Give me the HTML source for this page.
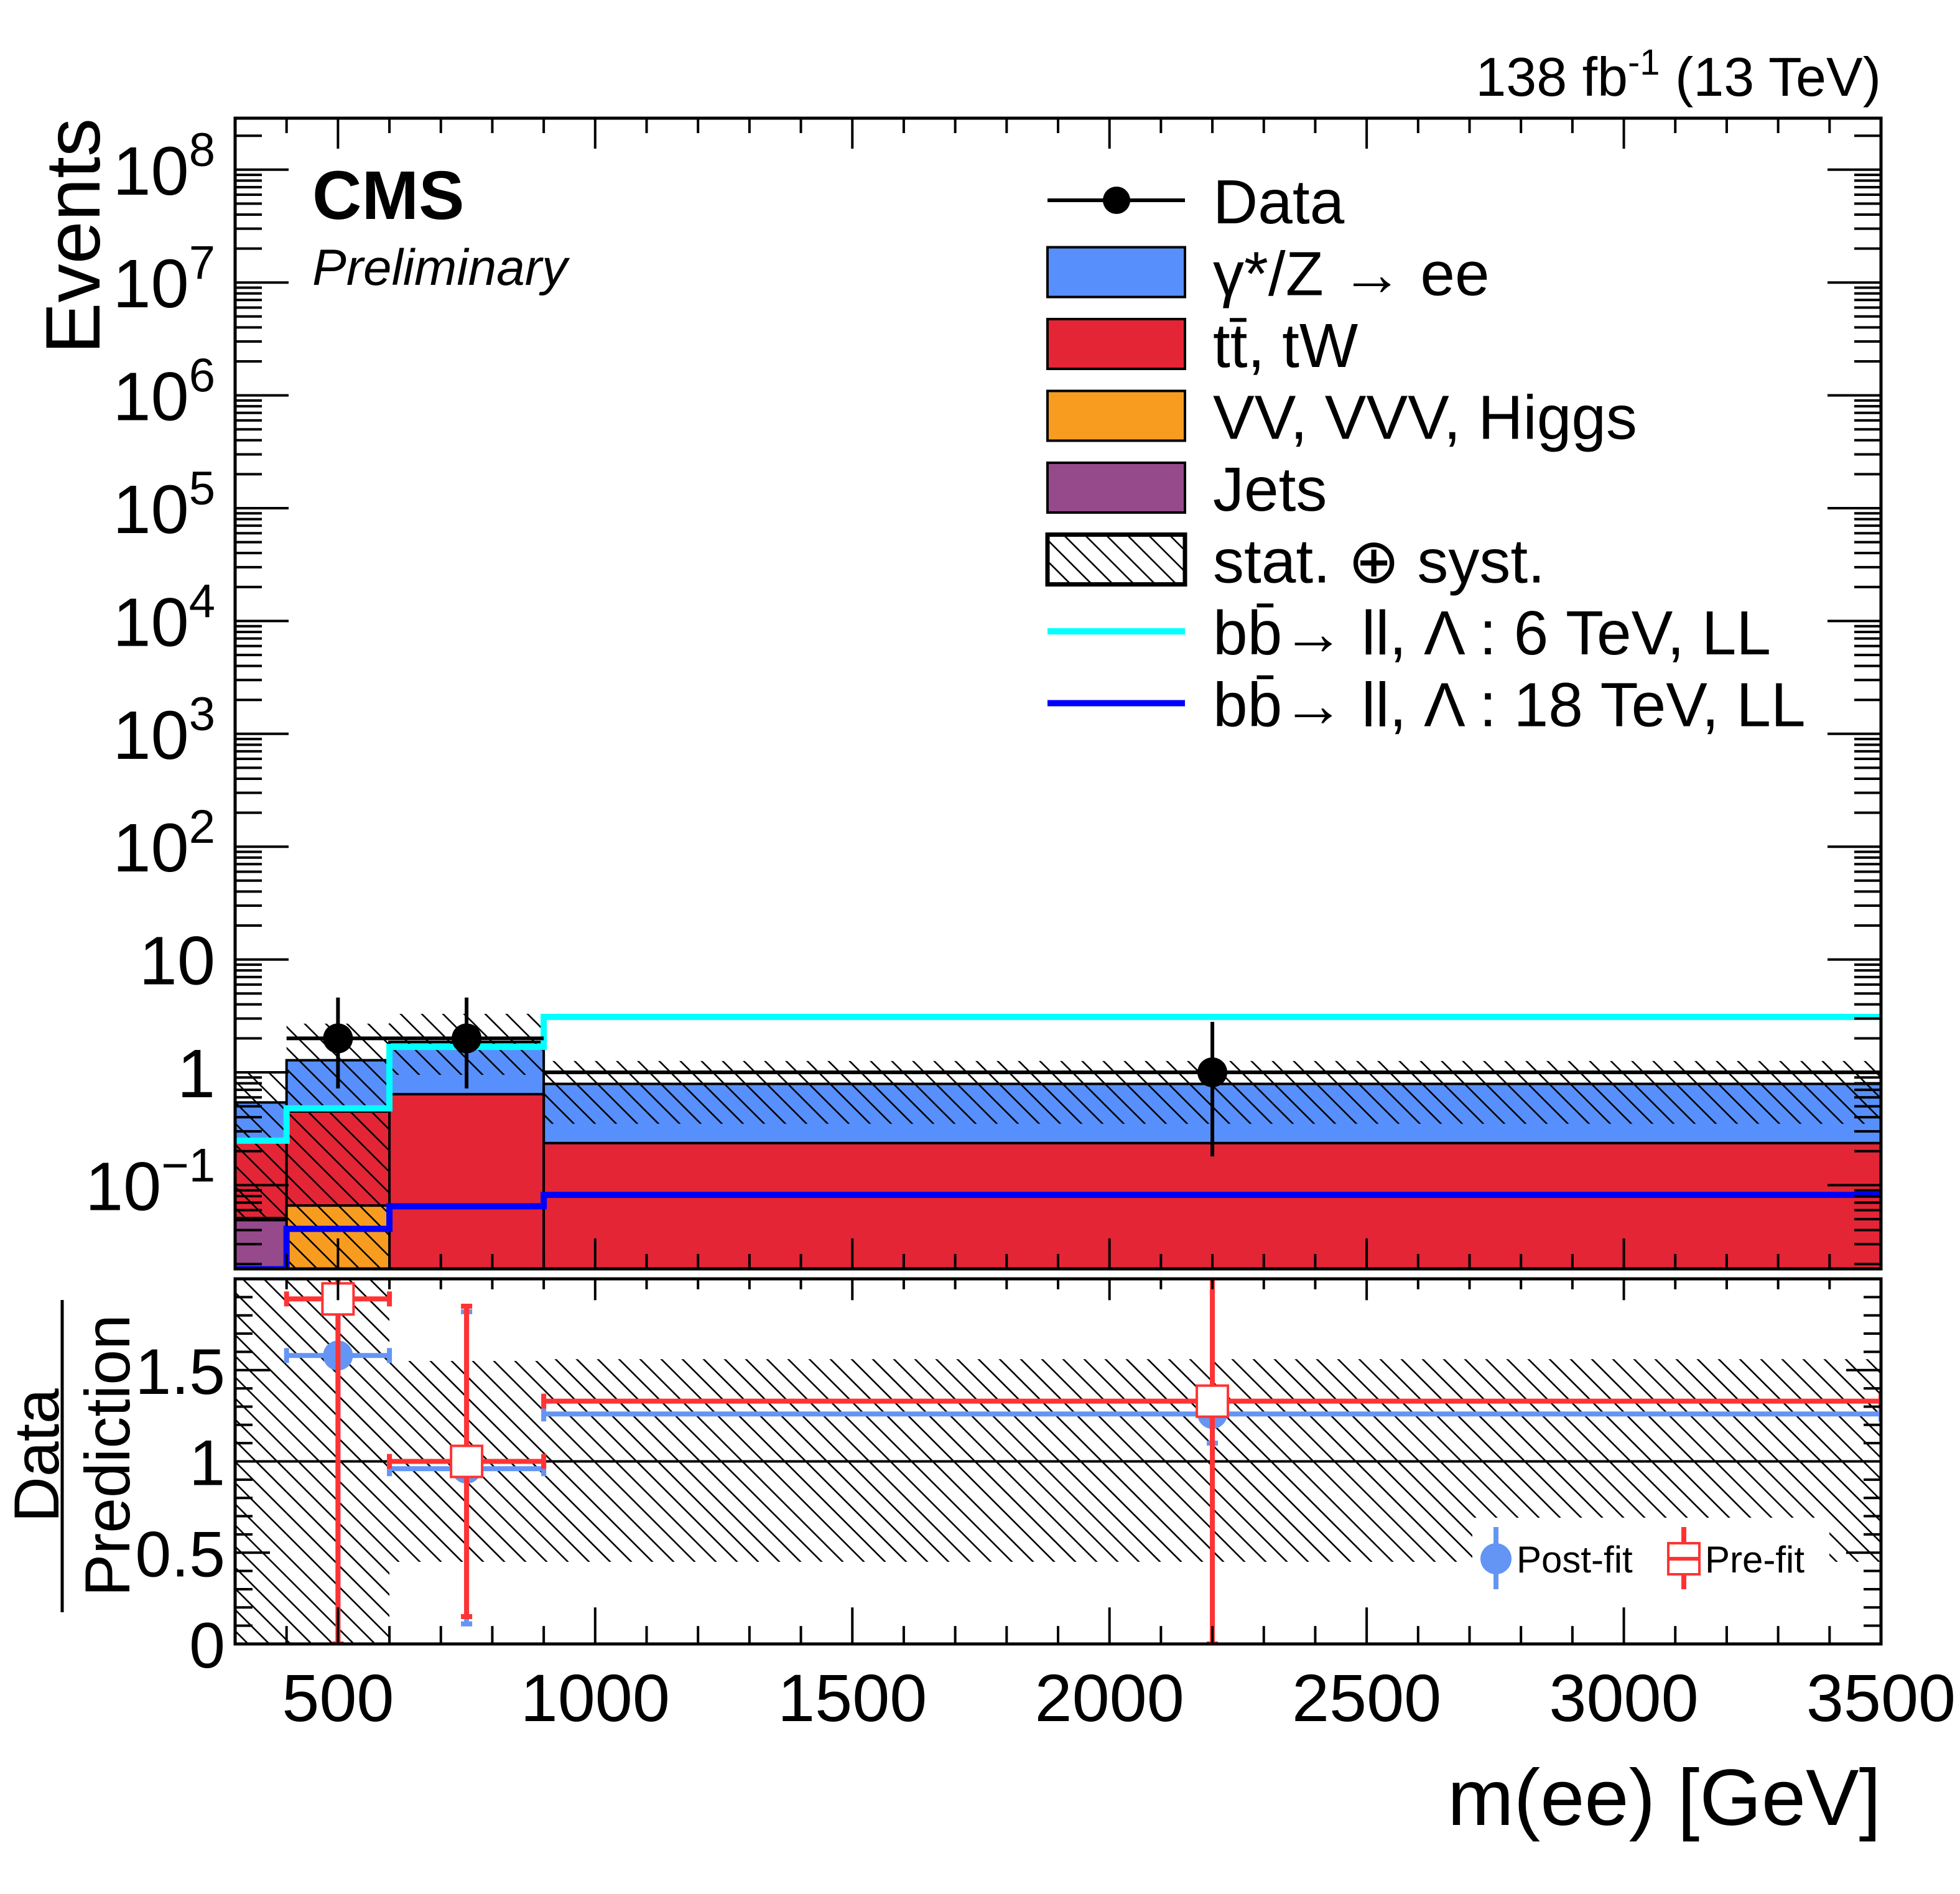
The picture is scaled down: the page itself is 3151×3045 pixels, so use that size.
<!DOCTYPE html>
<html><head><meta charset="utf-8"><style>
html,body{margin:0;padding:0;background:#fff;}
svg{display:block;font-family:"Liberation Sans",sans-serif;}
</style></head><body>
<svg id="chart" width="3151" height="3045" viewBox="0 0 3151 3045" xmlns="http://www.w3.org/2000/svg">
<defs>
<pattern id="hatch" patternUnits="userSpaceOnUse" width="34" height="34">
<path d="M-8.5,-8.5 L42.5,42.5 M-8.5,25.5 L8.5,42.5 M25.5,-8.5 L42.5,8.5" stroke="#000" stroke-width="2.6"/>
</pattern>
<clipPath id="mainClip"><rect x="378" y="190" width="2646" height="1850"/></clipPath>
<clipPath id="ratioClip"><rect x="378" y="2056" width="2646" height="587"/></clipPath>
</defs>
<g id="mainG" clip-path="url(#mainClip)"></g>
<g id="ratioG" clip-path="url(#ratioClip)"></g>
<g id="axesG"></g>
<text x="502" y="352" font-size="110" font-weight="bold">CMS</text>
<text x="502" y="458" font-size="82" font-style="italic">Preliminary</text>
<text x="3024" y="154" font-size="88" text-anchor="end">138 fb<tspan dy="-34" font-size="58">-1</tspan><tspan dy="34"> (13 TeV)</tspan></text>
<text transform="translate(160,190) rotate(-90)" font-size="124" text-anchor="end">Events</text>
<g>
<text transform="translate(94,2340) rotate(-90)" font-size="102" text-anchor="middle">Data</text>
<line x1="100" y1="2090" x2="100" y2="2592" stroke="#000" stroke-width="5"/>
<text transform="translate(208,2340) rotate(-90)" font-size="102" text-anchor="middle">Prediction</text>
</g>
<text x="3024" y="2934" font-size="128" text-anchor="end">m(ee) [GeV]</text>
<g id="legendG"></g>
<g id="ratioLegendG"></g>
</svg>
<script>
// ---- data ----
const binEdges = [300, 400, 600, 900, 3500];
const jets = [0.049, 0.004, 0.002, 0.001];
const vv = [0.002, 0.062, 0.008, 0.004];
const ttbar = [0.19, 0.384, 0.63, 0.231];
const dy = [0.30, 0.83, 1.22, 0.554];
const bandLo = [0.05, 0.01, 0.95, 0.35];
const bandHi = [1.0, 2.7, 3.3, 1.26];
const sig6 = [0.248, 0.48, 1.68, 3.1];
const sig18 = [0.018, 0.041, 0.065, 0.082];
const dataX = [500, 750, 2200];
const dataXlo = [400, 600, 900];
const dataXhi = [600, 900, 3500];
const dataY = [2.0, 2.0, 1.0];
const dataErrUp = [4.6, 4.6, 2.8];
const dataErrDn = [0.72, 0.72, 0.18];
const ratioBandLo = [-1, -1, 0.45, 0.45];
const ratioBandHi = [3, 3, 1.55, 1.56];
const postY = [1.58, 0.96, 1.26];
const postUp = [3, 1.82, 1.4];
const postDn = [0, 0.11, 1.1];
const preY = [1.89, 1.0, 1.33];
const preUp = [3, 1.85, 3];
const preDn = [0, 0.15, 0];
const xTickLabels = ["500", "1000", "1500", "2000", "2500", "3000", "3500"];
const yDecades = [-1, 0, 1, 2, 3, 4, 5, 6, 7, 8];
const ratioTickLabels = ["0", "0.5", "1", "1.5"];

// ---- axes ----
const L = 378, R = 3024, T = 190, B = 2040, RT = 2056, RB = 2643;
const X = v => L + (v - 300) / 3200 * (R - L);
const Y = v => { const y = 1724 - Math.log10(Math.max(v, 1e-6)) * 181.4; return Math.min(Math.max(y, T - 20), B + 20); };
const YR = v => Math.min(Math.max(2643 - v * 293.5, RT - 20), RB + 20);
const NS = "http://www.w3.org/2000/svg";
function mk(tag, attrs, parent) {
  const e = document.createElementNS(NS, tag);
  for (const k in attrs) e.setAttribute(k, attrs[k]);
  parent.appendChild(e); return e;
}
const mainG = document.getElementById('mainG');
const ratioG = document.getElementById('ratioG');
const axesG = document.getElementById('axesG');

// stacked histograms
const layers = [[jets, '#964a8b', 'jets'], [vv, '#f89c20', 'vv'], [ttbar, '#e42536', 'ttbar'], [dy, '#5790fc', 'dy']];
const cum = [0, 0, 0, 0];
const tops = [];
layers.forEach(([vals, col, nm]) => {
  const lo = cum.slice();
  for (let i = 0; i < 4; i++) cum[i] += vals[i];
  tops.push([lo, cum.slice(), col, nm]);
});
for (let li = tops.length - 1; li >= 0; li--) {
  const [lo, hi, col, nm] = tops[li];
  for (let i = 0; i < 4; i++) {
    const r = mk('rect', { x: X(binEdges[i]), y: Y(hi[i]), width: X(binEdges[i + 1]) - X(binEdges[i]), height: B + 20 - Y(hi[i]), fill: col, stroke: '#000', 'stroke-width': 4 }, mainG);
    
    
  }
}
// uncertainty band
for (let i = 0; i < 4; i++) {
  const r = mk('rect', { x: X(binEdges[i]), y: Y(bandHi[i]), width: X(binEdges[i + 1]) - X(binEdges[i]), height: Y(bandLo[i]) - Y(bandHi[i]), fill: 'url(#hatch)' }, mainG);
  
  
}
// signal step lines
function stepPath(vals) {
  let d = '';
  for (let i = 0; i < vals.length; i++) {
    d += (i === 0 ? 'M' : 'L') + X(binEdges[i]) + ',' + Y(vals[i]) + ' L' + X(binEdges[i + 1]) + ',' + Y(vals[i]) + ' ';
  }
  return d;
}
const s6 = mk('path', { d: stepPath(sig6), fill: 'none', stroke: '#00ffff', 'stroke-width': 10 }, mainG);


const s18 = mk('path', { d: stepPath(sig18), fill: 'none', stroke: '#0000ff', 'stroke-width': 10 }, mainG);


// data points
for (let i = 0; i < dataX.length; i++) {
  const g = mk('g', {}, mainG);
  
  
  mk('line', { x1: X(dataXlo[i]), x2: X(dataXhi[i]), y1: Y(dataY[i]), y2: Y(dataY[i]), stroke: '#000', 'stroke-width': 6 }, g);
  mk('line', { x1: X(dataX[i]), x2: X(dataX[i]), y1: Y(dataErrUp[i]), y2: Y(dataErrDn[i]), stroke: '#000', 'stroke-width': 6 }, g);
  mk('circle', { cx: X(dataX[i]), cy: Y(dataY[i]), r: 24, fill: '#000' }, g);
}

// ratio panel
for (let i = 0; i < 4; i++) {
  const r = mk('rect', { x: X(binEdges[i]), y: YR(ratioBandHi[i]), width: X(binEdges[i + 1]) - X(binEdges[i]), height: YR(ratioBandLo[i]) - YR(ratioBandHi[i]), fill: 'url(#hatch)' }, ratioG);
  
  
}
const wb = mk('rect', { x: 2367, y: 2440, width: 574, height: 120, fill: '#fff' }, ratioG);


const one = mk('line', { x1: L, x2: R, y1: YR(1), y2: YR(1), stroke: '#000', 'stroke-width': 4 }, ratioG);


function ratioPoint(i, yv, up, dn, col, kind) {
  const g = mk('g', {}, ratioG);
  
  
  const x0 = X(dataXlo[i]), x1 = X(dataXhi[i]), xc = X(dataX[i]), yc = YR(yv);
  mk('line', { x1: x0, x2: x1, y1: yc, y2: yc, stroke: col, 'stroke-width': 8 }, g);
  mk('line', { x1: x0, x2: x0, y1: yc - 12, y2: yc + 12, stroke: col, 'stroke-width': 8 }, g);
  mk('line', { x1: x1, x2: x1, y1: yc - 12, y2: yc + 12, stroke: col, 'stroke-width': 8 }, g);
  mk('line', { x1: xc, x2: xc, y1: YR(up), y2: YR(dn), stroke: col, 'stroke-width': 8 }, g);
  mk('line', { x1: xc - 9, x2: xc + 9, y1: YR(up), y2: YR(up), stroke: col, 'stroke-width': 8 }, g);
  mk('line', { x1: xc - 9, x2: xc + 9, y1: YR(dn), y2: YR(dn), stroke: col, 'stroke-width': 8 }, g);
  if (kind === 'post') mk('circle', { cx: xc, cy: yc, r: 24, fill: col }, g);
  else mk('rect', { x: xc - 25, y: yc - 25, width: 50, height: 50, fill: '#fff', stroke: col, 'stroke-width': 4 }, g);
}
for (let i = 0; i < 3; i++) ratioPoint(i, postY[i], postUp[i], postDn[i], '#6495f5', 'post');
for (let i = 0; i < 3; i++) ratioPoint(i, preY[i], preUp[i], preDn[i], '#ff3333', 'pre');

// frames
[[T, B, 'main-frame'], [RT, RB, 'ratio-frame']].forEach(([t, b, nm]) => {
  const r = mk('rect', { x: L, y: t, width: R - L, height: b - t, fill: 'none', stroke: '#000', 'stroke-width': 5 }, axesG);
  
  
});
// x ticks
const tk = mk('g', { stroke: '#000', 'stroke-width': 4 }, axesG);


for (let v = 300; v <= 3500; v += 100) {
  const x = X(v), len = v % 500 === 0 ? 49 : 24;
  mk('line', { x1: x, x2: x, y1: T, y2: T + len }, tk);
  mk('line', { x1: x, x2: x, y1: B, y2: B - len }, tk);
  mk('line', { x1: x, x2: x, y1: RT, y2: RT + len * 0.7 }, tk);
  mk('line', { x1: x, x2: x, y1: RB, y2: RB - len * 1.2 }, tk);
}
// log y ticks
for (let d = -2; d <= 8; d++) {
  for (let m = 1; m <= 9; m++) {
    const v = m * Math.pow(10, d);
    const y = 1724 - Math.log10(v) * 181.4;
    if (y < T || y > B) continue;
    const len = m === 1 ? 86 : 43;
    mk('line', { x1: L, x2: L + len, y1: y, y2: y }, tk);
    mk('line', { x1: R, x2: R - len, y1: y, y2: y }, tk);
  }
}
// ratio y ticks
for (let k = 0; k <= 19; k++) {
  const v = k / 10, y = YR(v), len = k % 5 === 0 ? 56 : 28;
  mk('line', { x1: L, x2: L + len, y1: y, y2: y }, tk);
  mk('line', { x1: R, x2: R - len, y1: y, y2: y }, tk);
}
// x labels
xTickLabels.forEach(s => {
  const t = mk('text', { x: X(+s), y: 2767, 'font-size': 108, 'text-anchor': 'middle' }, axesG);
  t.textContent = s;
  
  
});
// y labels
yDecades.forEach(d => {
  const y = 1724 - d * 181.4 + 40;
  const t = mk('text', { x: 346, y: y, 'font-size': 110, 'text-anchor': 'end' }, axesG);
  
  
  if (d === 0) t.textContent = '1';
  else if (d === 1) t.textContent = '10';
  else {
    const a = mk('tspan', {}, t); a.textContent = '10';
    const b = mk('tspan', { dy: -46, 'font-size': 76 }, t); b.textContent = d < 0 ? '\u2212' + (-d) : String(d);
  }
});
ratioTickLabels.forEach(s => {
  const t = mk('text', { x: 362, y: YR(+s) + 38, 'font-size': 104, 'text-anchor': 'end' }, axesG);
  t.textContent = s;
  
  
});

// legend
const lg = document.getElementById('legendG');
const legendItems = [
  ['data', 'Data'], ['box', '#5790fc', 'γ*/Z → ee'], ['box', '#e42536', 'tt̄, tW'], ['box', '#f89c20', 'VV, VVV, Higgs'],
  ['box', '#964a8b', 'Jets'], ['hatch', 'stat. ⊕ syst.'], ['line', '#00ffff', 'bb̄→ ll, Λ : 6 TeV, LL'], ['line', '#0000ff', 'bb̄→ ll, Λ : 18 TeV, LL']
];
legendItems.forEach((it, i) => {
  const yc = 322 + i * 115.5;
  const g = mk('g', {}, lg);
  
  
  let label;
  if (it[0] === 'data') {
    mk('line', { x1: 1684, x2: 1905, y1: yc, y2: yc, stroke: '#000', 'stroke-width': 6 }, g);
    mk('circle', { cx: 1795, cy: yc, r: 22, fill: '#000' }, g);
    label = it[1];
  } else if (it[0] === 'box') {
    mk('rect', { x: 1684, y: yc - 40, width: 221, height: 80, fill: it[1], stroke: '#000', 'stroke-width': 4 }, g);
    label = it[2];
  } else if (it[0] === 'hatch') {
    mk('rect', { x: 1684, y: yc - 40, width: 221, height: 80, fill: 'url(#hatch)', stroke: '#000', 'stroke-width': 7 }, g);
    label = it[1];
  } else {
    mk('line', { x1: 1684, x2: 1905, y1: yc, y2: yc, stroke: it[1], 'stroke-width': 10 }, g);
    label = it[2];
  }
  const t = mk('text', { x: 1950, y: yc + 37, 'font-size': 100 }, g);
  t.textContent = label;
});

// ratio legend
const rl = document.getElementById('ratioLegendG');
const pg = mk('g', {}, rl);


mk('line', { x1: 2405, x2: 2405, y1: 2455, y2: 2555, stroke: '#6495f5', 'stroke-width': 8 }, pg);
mk('ellipse', { cx: 2405, cy: 2506, rx: 25, ry: 25, fill: '#6495f5' }, pg);
const pt = mk('text', { x: 2438, y: 2528, 'font-size': 60 }, pg); pt.textContent = 'Post-fit';
const qg = mk('g', {}, rl);


mk('line', { x1: 2707, x2: 2707, y1: 2455, y2: 2555, stroke: '#ff3333', 'stroke-width': 8 }, qg);
mk('rect', { x: 2682, y: 2481, width: 50, height: 50, fill: '#fff', stroke: '#ff3333', 'stroke-width': 4 }, qg);
mk('line', { x1: 2682, x2: 2732, y1: 2506, y2: 2506, stroke: '#ff3333', 'stroke-width': 6 }, qg);
const qt = mk('text', { x: 2741, y: 2528, 'font-size': 60 }, qg); qt.textContent = 'Pre-fit';
</script>
</body></html>
